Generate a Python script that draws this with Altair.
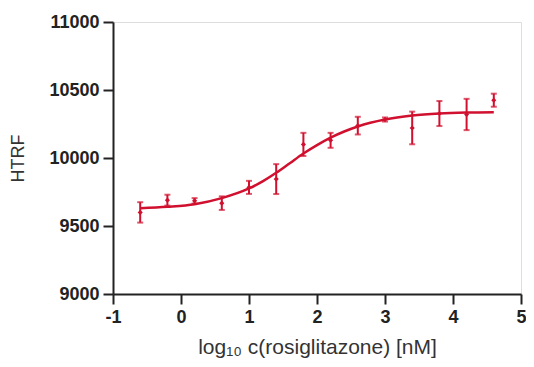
import altair as alt
import pandas as pd

# measured points (log10 concentration, mean HTRF, error)
x_vals = [-0.6, -0.2, 0.2, 0.6, 1.0, 1.4, 1.8, 2.2, 2.6, 3.0, 3.4, 3.8, 4.2, 4.6]
y_mean = [9600, 9690, 9685, 9668, 9784, 9845, 10100, 10130, 10238, 10283, 10221, 10327, 10320, 10425]
y_err = [75, 40, 20, 50, 48, 110, 85, 55, 65, 15, 120, 92, 115, 48]

# fitted curve
curve_x = [-0.6, -0.2, 0.2, 0.6, 1.0, 1.2, 1.4, 1.6, 1.8, 2.0, 2.2, 2.4, 2.6, 3.0, 3.4, 3.8, 4.2, 4.6]
curve_y = [9630, 9641, 9660, 9705, 9776, 9828, 9891, 9962, 10033, 10095, 10150, 10195, 10232, 10283, 10312, 10327, 10334, 10337]

x_ticks = [-1, 0, 1, 2, 3, 4, 5]
y_ticks = [9000, 9500, 10000, 10500, 11000]

RED = "#d0102e"

pts = pd.DataFrame({"x": x_vals, "y": y_mean, "err": y_err})
pts["lo"] = pts["y"] - pts["err"]
pts["hi"] = pts["y"] + pts["err"]
curve = pd.DataFrame({"x": curve_x, "y": curve_y})

xscale = alt.Scale(domain=[-1, 5], nice=False, zero=False)
yscale = alt.Scale(domain=[9000, 11000], nice=False, zero=False)

xaxis = alt.Axis(
    values=x_ticks, title="log₁₀ c(rosiglitazone) [nM]", grid=False,
    labelExpr="'' + datum.value",
    domainColor="#222", domainWidth=2, tickColor="#222", tickWidth=2, tickSize=10,
    labelFont="Liberation Sans", labelFontSize=18, labelFontWeight="bold", labelColor="#222",
    labelPadding=4, titleFont="Liberation Sans", titleFontSize=21, titleFontWeight="normal",
    titleColor="#333", titleY=59, titleBaseline="alphabetic", labelFlush=False,
)
yaxis = alt.Axis(
    values=y_ticks, title="HTRF", grid=False, format="d",
    domainColor="#222", domainWidth=2, tickColor="#222", tickWidth=2, tickSize=10,
    labelFont="Liberation Sans", labelFontSize=18, labelFontWeight="bold", labelColor="#222",
    labelPadding=4, titleFont="Liberation Sans", titleFontSize=18, titleFontWeight="normal",
    titleColor="#333", titleX=-90, titleY=136, titleBaseline="alphabetic", titleAlign="center",
    labelFlush=False,
)

base_x = alt.X("x:Q", scale=xscale, axis=xaxis)
base_y = alt.Y("y:Q", scale=yscale, axis=yaxis)

line = alt.Chart(curve).mark_line(color=RED, strokeWidth=2.5, interpolate="monotone").encode(
    x=base_x, y=base_y
)
bars = alt.Chart(pts).mark_rule(color=RED, strokeWidth=2).encode(
    x=alt.X("x:Q", scale=xscale), y=alt.Y("lo:Q", scale=yscale), y2="hi:Q"
)
cap_lo = alt.Chart(pts).mark_tick(color=RED, orient="horizontal", size=6, thickness=2).encode(
    x=alt.X("x:Q", scale=xscale), y=alt.Y("lo:Q", scale=yscale)
)
cap_hi = alt.Chart(pts).mark_tick(color=RED, orient="horizontal", size=6, thickness=2).encode(
    x=alt.X("x:Q", scale=xscale), y=alt.Y("hi:Q", scale=yscale)
)
dots = alt.Chart(pts).mark_point(color=RED, filled=True, opacity=1, size=26, shape="diamond").encode(
    x=alt.X("x:Q", scale=xscale), y=alt.Y("y:Q", scale=yscale)
)

chart = alt.layer(line, bars, cap_lo, cap_hi, dots).properties(
    width=408, height=272,
    autosize=alt.AutoSizeParams(type="none"),
    padding={"left": 105, "top": 14, "right": 5, "bottom": 65},
).configure_view(stroke=None).configure(background="white")

chart.save("out.html", embed_options={"renderer": "svg", "actions": False})
